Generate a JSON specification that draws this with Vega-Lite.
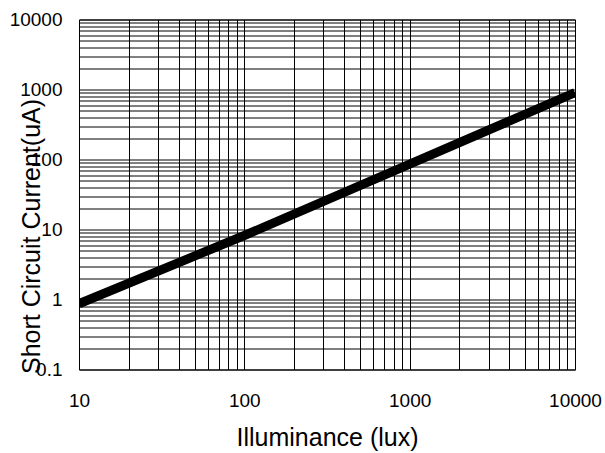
{
  "$schema": "https://vega.github.io/schema/vega-lite/v6.json",
  "autosize": {"type": "none"},
  "padding": {"left": 79, "top": 19.5, "right": 30, "bottom": 83.5},
  "width": 496,
  "height": 350,
  "background": "white",
  "config": {
    "font": "Liberation Sans",
    "view": {"stroke": "black", "strokeWidth": 1},
    "axis": {
      "labelFont": "Liberation Sans",
      "titleFont": "Liberation Sans",
      "labelColor": "black",
      "titleColor": "black",
      "labelFontSize": 19,
      "titleFontSize": 25,
      "titleFontWeight": "normal",
      "domain": false,
      "ticks": false,
      "tickSize": 0,
      "grid": true,
      "gridColor": "black",
      "gridWidth": 1,
      "gridOpacity": 1,
      "labelOverlap": false,
      "labelBound": false,
      "labelFlush": false
    }
  },
  "data": {
    "values": [
      {"lux": 10, "current": 0.87},
      {"lux": 100, "current": 8.2},
      {"lux": 1000, "current": 86},
      {"lux": 10000, "current": 900}
    ]
  },
  "mark": {"type": "line", "color": "black", "strokeWidth": 9, "clip": true},
  "encoding": {
    "x": {
      "field": "lux",
      "type": "quantitative",
      "scale": {"type": "log", "domain": [10, 10000], "nice": false},
      "axis": {
        "title": "Illuminance (lux)",
        "values": [10,20,30,40,50,60,70,80,90,100,200,300,400,500,600,700,800,900,1000,2000,3000,4000,5000,6000,7000,8000,9000,10000],
        "labelExpr": "indexof([10,100,1000,10000], datum.value) >= 0 ? format(datum.value, 'd') : ''",
        "labelBaseline": "alphabetic",
        "labelPadding": 36.5,
        "titleBaseline": "alphabetic",
        "titleY": 76
      }
    },
    "y": {
      "field": "current",
      "type": "quantitative",
      "scale": {"type": "log", "domain": [0.1, 10000], "nice": false},
      "axis": {
        "title": "Short Circuit Current(uA)",
        "values": [0.1,0.2,0.3,0.4,0.5,0.6,0.7,0.8,0.9,1,2,3,4,5,6,7,8,9,10,20,30,40,50,60,70,80,90,100,200,300,400,500,600,700,800,900,1000,2000,3000,4000,5000,6000,7000,8000,9000,10000],
        "labelExpr": "indexof([0.1,1,10,100,1000,10000], datum.value) >= 0 ? format(datum.value, '~g') : ''",
        "labelBaseline": "middle",
        "labelAlign": "right",
        "labelPadding": 17,
        "titleAngle": -90,
        "titleBaseline": "middle",
        "titleX": -48,
        "titleY": 216.5
      }
    }
  }
}
